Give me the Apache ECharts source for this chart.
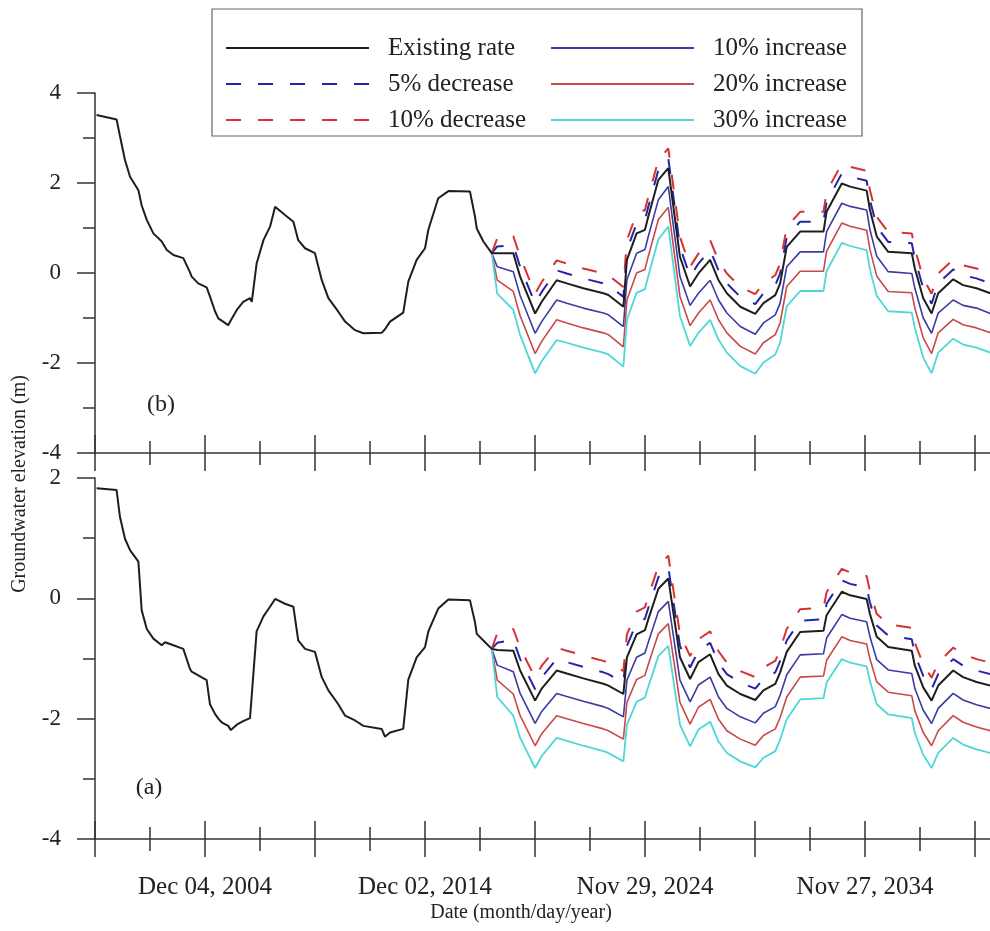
<!DOCTYPE html>
<html>
<head>
<meta charset="utf-8">
<script src="https://cdn.jsdelivr.net/npm/echarts@6/dist/echarts.min.js"></script>
<style>
  html, body { margin: 0; padding: 0; background: #fff; }
  #chart { width: 990px; height: 931px; }
</style>
</head>
<body>
<div id="chart"></div>
<script>
// ---- Observed period (all scenarios share it), decimal years ----
const histYears = [2000.00, 2000.91, 2001.06, 2001.29, 2001.52, 2001.90, 2002.05, 2002.28, 2002.58, 2002.96,
  2003.11, 2003.19, 2003.49, 2003.94, 2004.24, 2004.32, 2004.62, 2005.00, 2005.15, 2005.38,
  2005.53, 2005.68, 2005.98, 2006.10, 2006.37, 2006.66, 2006.97, 2007.05, 2007.27, 2007.58,
  2007.88, 2008.11, 2008.56, 2008.94, 2009.16, 2009.47, 2009.92, 2010.23, 2010.53, 2010.98,
  2011.29, 2011.74, 2012.12, 2012.95, 2013.10, 2013.33, 2013.93, 2014.16, 2014.54, 2014.92,
  2015.07, 2015.52, 2015.98, 2016.96, 2017.19, 2017.27, 2017.57];

// panel (b)
const histTop = [3.51, 3.41, 3.05, 2.51, 2.14, 1.84, 1.50, 1.18, 0.88, 0.70,
  0.58, 0.51, 0.40, 0.33, 0.02, -0.08, -0.23, -0.32, -0.52, -0.85,
  -1.01, -1.06, -1.16, -1.05, -0.82, -0.64, -0.56, -0.64, 0.21, 0.73,
  1.03, 1.47, 1.29, 1.14, 0.73, 0.55, 0.44, -0.16, -0.56, -0.86,
  -1.08, -1.27, -1.34, -1.33, -1.25, -1.08, -0.88, -0.19, 0.29, 0.55,
  0.96, 1.66, 1.82, 1.81, 1.25, 0.99, 0.70];

// panel (a)
const histBottom = [1.83, 1.80, 1.36, 0.99, 0.80, 0.61, -0.20, -0.51, -0.67, -0.78,
  -0.73, -0.75, -0.78, -0.84, -1.17, -1.22, -1.28, -1.36, -1.76, -1.92,
  -2.00, -2.06, -2.12, -2.19, -2.10, -2.04, -1.99, -1.99, -0.55, -0.30,
  -0.14, -0.01, -0.09, -0.14, -0.70, -0.84, -0.89, -1.31, -1.53, -1.76,
  -1.95, -2.03, -2.12, -2.17, -2.30, -2.23, -2.17, -1.35, -0.98, -0.81,
  -0.55, -0.17, -0.02, -0.03, -0.40, -0.59, -0.70];

// ---- Projection period, decimal years ----
const projYears = [2017.95, 2018.20, 2018.93, 2019.24, 2019.92, 2020.22, 2020.90, 2021.36, 2022.11, 2023.02,
  2023.25, 2023.93, 2024.09, 2024.53, 2024.91, 2025.06, 2025.52, 2025.97, 2026.50, 2026.96,
  2027.34, 2027.87, 2028.25, 2028.63, 2029.24, 2029.92, 2030.29, 2030.83, 2031.05, 2031.35,
  2031.96, 2033.02, 2033.16, 2033.85, 2034.23, 2034.98, 2035.13, 2035.44, 2035.96, 2037.03,
  2037.17, 2037.55, 2037.93, 2038.23, 2038.91, 2039.36, 2039.97, 2040.60];

// panel (b) scenarios
const existingTop = [0.44, 0.44, 0.44, -0.08, -0.90, -0.64, -0.16, -0.23, -0.34, -0.45,
  -0.49, -0.75, 0.29, 0.88, 0.96, 1.25, 2.07, 2.33, 0.36, -0.30,
  -0.01, 0.29, -0.16, -0.45, -0.75, -0.91, -0.67, -0.49, -0.23, 0.58,
  0.92, 0.92, 1.36, 1.99, 1.92, 1.83, 1.40, 0.81, 0.47, 0.44,
  0.10, -0.56, -0.90, -0.45, -0.14, -0.27, -0.34, -0.45];
const dec5Top = [0.44, 0.59, 0.62, 0.14, -0.68, -0.42, 0.06, -0.01, -0.12, -0.23,
  -0.27, -0.53, 0.51, 1.10, 1.18, 1.47, 2.29, 2.55, 0.58, -0.08,
  0.21, 0.51, 0.06, -0.23, -0.53, -0.69, -0.45, -0.27, -0.01, 0.80,
  1.14, 1.14, 1.58, 2.21, 2.14, 2.05, 1.62, 1.03, 0.69, 0.66,
  0.32, -0.34, -0.68, -0.23, 0.08, -0.05, -0.12, -0.23];
const dec10Top = [0.44, 0.77, 0.82, 0.36, -0.46, -0.20, 0.28, 0.21, 0.10, -0.01,
  -0.05, -0.31, 0.73, 1.32, 1.40, 1.69, 2.51, 2.77, 0.80, 0.14,
  0.43, 0.73, 0.28, -0.01, -0.31, -0.47, -0.23, -0.05, 0.21, 1.02,
  1.36, 1.36, 1.80, 2.43, 2.36, 2.27, 1.84, 1.25, 0.91, 0.88,
  0.54, -0.12, -0.46, -0.01, 0.30, 0.17, 0.10, -0.01];
const inc10Top = [0.44, 0.14, 0.03, -0.50, -1.34, -1.08, -0.60, -0.67, -0.78, -0.89,
  -0.93, -1.19, -0.15, 0.44, 0.52, 0.81, 1.63, 1.92, -0.08, -0.72,
  -0.45, -0.16, -0.60, -0.89, -1.19, -1.36, -1.11, -0.93, -0.67, 0.14,
  0.47, 0.47, 0.92, 1.55, 1.48, 1.40, 0.96, 0.37, 0.03, -0.01,
  -0.34, -1.00, -1.34, -0.89, -0.60, -0.72, -0.78, -0.90];
const inc20Top = [0.44, -0.16, -0.41, -0.95, -1.79, -1.52, -1.04, -1.11, -1.22, -1.33,
  -1.37, -1.64, -0.60, 0.00, 0.08, 0.37, 1.19, 1.46, -0.52, -1.17,
  -0.89, -0.60, -1.04, -1.33, -1.63, -1.80, -1.55, -1.37, -1.11, -0.30,
  0.04, 0.04, 0.48, 1.11, 1.04, 0.95, 0.52, -0.07, -0.41, -0.44,
  -0.78, -1.44, -1.79, -1.33, -1.03, -1.15, -1.22, -1.33];
const inc30Top = [0.44, -0.46, -0.82, -1.38, -2.23, -1.96, -1.49, -1.55, -1.66, -1.77,
  -1.81, -2.08, -1.04, -0.44, -0.36, -0.07, 0.75, 1.03, -0.96, -1.62,
  -1.33, -1.04, -1.48, -1.77, -2.07, -2.24, -1.99, -1.81, -1.55, -0.74,
  -0.40, -0.40, 0.04, 0.67, 0.60, 0.51, 0.08, -0.51, -0.85, -0.88,
  -1.22, -1.88, -2.23, -1.77, -1.46, -1.59, -1.66, -1.77];

// panel (a) scenarios
const existingBottom = [-0.84, -0.86, -0.87, -1.20, -1.70, -1.50, -1.20, -1.25, -1.33, -1.42,
  -1.45, -1.59, -0.98, -0.60, -0.53, -0.35, 0.16, 0.33, -0.98, -1.34,
  -1.06, -0.93, -1.26, -1.45, -1.59, -1.69, -1.53, -1.42, -1.23, -0.89,
  -0.56, -0.54, -0.28, 0.11, 0.05, -0.01, -0.26, -0.64, -0.81, -0.87,
  -1.12, -1.48, -1.70, -1.45, -1.20, -1.31, -1.39, -1.45];
const dec5Bottom = [-0.84, -0.74, -0.69, -1.01, -1.51, -1.31, -1.01, -1.06, -1.14, -1.23,
  -1.26, -1.40, -0.79, -0.41, -0.34, -0.16, 0.35, 0.52, -0.79, -1.15,
  -0.87, -0.74, -1.07, -1.26, -1.40, -1.50, -1.34, -1.23, -1.04, -0.70,
  -0.37, -0.35, -0.09, 0.30, 0.24, 0.18, -0.07, -0.45, -0.62, -0.68,
  -0.93, -1.29, -1.51, -1.26, -1.01, -1.12, -1.20, -1.26];
const dec10Bottom = [-0.84, -0.58, -0.51, -0.82, -1.32, -1.12, -0.82, -0.87, -0.95, -1.04,
  -1.07, -1.21, -0.60, -0.22, -0.15, 0.03, 0.54, 0.71, -0.60, -0.96,
  -0.68, -0.55, -0.88, -1.07, -1.21, -1.31, -1.15, -1.04, -0.85, -0.51,
  -0.18, -0.16, 0.10, 0.49, 0.43, 0.37, 0.12, -0.26, -0.43, -0.49,
  -0.74, -1.10, -1.32, -1.07, -0.82, -0.93, -1.01, -1.07];
const inc10Bottom = [-0.84, -1.11, -1.22, -1.58, -2.08, -1.88, -1.58, -1.63, -1.71, -1.80,
  -1.83, -1.97, -1.36, -0.98, -0.91, -0.73, -0.22, -0.05, -1.36, -1.72,
  -1.44, -1.31, -1.64, -1.83, -1.97, -2.07, -1.91, -1.80, -1.61, -1.27,
  -0.94, -0.92, -0.66, -0.27, -0.33, -0.39, -0.64, -1.02, -1.19, -1.25,
  -1.50, -1.86, -2.08, -1.83, -1.58, -1.69, -1.77, -1.83];
const inc20Bottom = [-0.84, -1.36, -1.59, -1.95, -2.45, -2.25, -1.95, -2.00, -2.08, -2.17,
  -2.20, -2.34, -1.73, -1.35, -1.28, -1.10, -0.59, -0.42, -1.73, -2.09,
  -1.81, -1.68, -2.01, -2.20, -2.34, -2.44, -2.28, -2.17, -1.98, -1.64,
  -1.31, -1.29, -1.03, -0.64, -0.70, -0.76, -1.01, -1.39, -1.56, -1.62,
  -1.87, -2.23, -2.45, -2.20, -1.95, -2.06, -2.14, -2.20];
const inc30Bottom = [-0.84, -1.64, -1.95, -2.32, -2.82, -2.62, -2.32, -2.37, -2.45, -2.54,
  -2.57, -2.71, -2.10, -1.72, -1.65, -1.47, -0.96, -0.79, -2.10, -2.46,
  -2.18, -2.05, -2.38, -2.57, -2.71, -2.81, -2.65, -2.54, -2.35, -2.01,
  -1.68, -1.66, -1.40, -1.01, -1.07, -1.13, -1.38, -1.76, -1.93, -1.99,
  -2.24, -2.60, -2.82, -2.57, -2.32, -2.43, -2.51, -2.57];

// ---- Axis tick values (spreadsheet day serials) ----
const xMin = 36500;          // first tick, left edge of the plots
const xMax = 52925;          // last tick, just past the right edge
const xStep = 1825;          // long ticks every 5 years, short ticks in between
const labelFirst = 38325;    // Dec 04, 2004
const labelStep = 3650;      // a date label every 10 years
const monthNames = ['Jan', 'Feb', 'Mar', 'Apr', 'May', 'Jun', 'Jul', 'Aug', 'Sep', 'Oct', 'Nov', 'Dec'];

const FONT = "'Liberation Serif', 'Times New Roman', serif";
const AXIS_COLOR = '#333';

function toSerial(year) {
  return 36526 + (year - 2000) * 365.25;
}
function pairs(years, values) {
  return years.map((y, i) => [toSerial(y), values[i]]);
}
function dateLabel(v) {
  if (Math.abs(((v - labelFirst) % labelStep + labelStep) % labelStep) > 0.5) return '';
  const d = new Date(Date.UTC(1899, 11, 30) + Math.round(v) * 86400000);
  const dd = String(d.getUTCDate()).padStart(2, '0');
  return monthNames[d.getUTCMonth()] + ' ' + dd + ', ' + d.getUTCFullYear();
}

const scenarios = [
  { name: 'Existing rate', color: '#1e1e1e', width: 2, dash: 'solid', top: existingTop, bottom: existingBottom },
  { name: '5% decrease', color: '#2424a8', width: 2, dash: [15, 17], top: dec5Top, bottom: dec5Bottom },
  { name: '10% decrease', color: '#d63232', width: 2, dash: [15, 17], top: dec10Top, bottom: dec10Bottom },
  { name: '10% increase', color: '#3b3ba3', width: 1.6, dash: 'solid', top: inc10Top, bottom: inc10Bottom },
  { name: '20% increase', color: '#c94848', width: 1.6, dash: 'solid', top: inc20Top, bottom: inc20Bottom },
  { name: '30% increase', color: '#4fd6d6', width: 1.8, dash: 'solid', top: inc30Top, bottom: inc30Bottom }
];

// the plotting area runs on past the right edge of the page
const grids = [
  { left: 95, top: 93, width: 990, height: 360, containLabel: false, outerBoundsMode: 'none' },
  { left: 95, top: 478, width: 990, height: 361, containLabel: false, outerBoundsMode: 'none' }
];

function xAxisPair(gridIndex, withLabels) {
  const common = {
    gridIndex, type: 'value', position: 'bottom',
    min: xMin, max: xMax, interval: xStep,
    splitLine: { show: false },
    minorTick: { show: true, splitNumber: 2, length: 12, lineStyle: { color: AXIS_COLOR, width: 1.5 } },
    axisTick: { show: true, length: 18, lineStyle: { color: AXIS_COLOR, width: 1.5 } }
  };
  return [
    Object.assign({}, common, {
      axisLine: { show: true, onZero: false, lineStyle: { color: AXIS_COLOR, width: 1.5 } },
      axisLabel: {
        show: withLabels, margin: 36, formatter: dateLabel,
        fontFamily: FONT, fontSize: 25, color: '#222',
        showMinLabel: true, showMaxLabel: true, hideOverlap: false
      }
    }),
    Object.assign({}, common, {
      axisLine: { show: false, onZero: false },
      axisTick: { show: true, inside: true, length: 18, lineStyle: { color: AXIS_COLOR, width: 1.5 } },
      axisLabel: { show: false }
    })
  ];
}

function yAxis(gridIndex, min, max) {
  return {
    gridIndex, type: 'value', min, max, interval: 2,
    splitLine: { show: false },
    axisLine: { show: true, onZero: false, lineStyle: { color: AXIS_COLOR, width: 1.5 } },
    axisTick: { show: true, length: 18, lineStyle: { color: AXIS_COLOR, width: 1.5 } },
    minorTick: { show: true, splitNumber: 2, length: 12, lineStyle: { color: AXIS_COLOR, width: 1.5 } },
    axisLabel: { margin: 34, fontFamily: FONT, fontSize: 23, color: '#222' }
  };
}

const series = [];
[['top', 0, histTop], ['bottom', 1, histBottom]].forEach(([key, g, hist]) => {
  scenarios.forEach((s, k) => {
    let data = pairs(projYears, s[key]);
    if (k === 0) data = pairs(histYears, hist).concat(data);
    series.push({
      name: s.name, type: 'line', xAxisIndex: g * 2, yAxisIndex: g,
      data, symbol: 'none', smooth: false, animation: false,
      z: k === 0 ? 3 : 2,
      lineStyle: { color: s.color, width: s.width, type: s.dash },
      itemStyle: { color: s.color }
    });
  });
});

const legendText = { fontFamily: FONT, fontSize: 25, color: '#222', lineHeight: 26, padding: [0, 0, 0, 14] };
const legendCommon = {
  orient: 'vertical', top: 30, itemWidth: 143, itemHeight: 14, itemGap: 10,
  textStyle: legendText, selectedMode: false, z: 6,
  itemStyle: { opacity: 0, borderWidth: 0 }
};

const chart = echarts.init(document.getElementById('chart'), null, { renderer: 'canvas' });
chart.setOption({
  backgroundColor: '#fff',
  animation: false,
  grid: grids,
  xAxis: xAxisPair(0, false).concat(xAxisPair(1, true)),
  yAxis: [yAxis(0, -4, 4), yAxis(1, -4, 2)],
  legend: [
    Object.assign({ data: ['Existing rate', '5% decrease', '10% decrease'], left: 220 }, legendCommon),
    Object.assign({ data: ['10% increase', '20% increase', '30% increase'], left: 545 }, legendCommon)
  ],
  graphic: [
    {
      type: 'rect', z: 5, silent: true,
      shape: { x: 212, y: 9, width: 650, height: 127 },
      style: { fill: '#fff', stroke: '#666', lineWidth: 1.2 }
    },
    {
      type: 'text', x: 20, y: 484, rotation: Math.PI / 2, silent: true,
      style: { text: 'Groundwater elevation (m)', font: "20px 'Liberation Serif', serif", fill: '#222', textAlign: 'center', textVerticalAlign: 'middle' }
    },
    {
      type: 'text', x: 521, y: 913, silent: true,
      style: { text: 'Date (month/day/year)', font: "20px 'Liberation Serif', serif", fill: '#222', textAlign: 'center', textVerticalAlign: 'middle' }
    },
    {
      type: 'text', x: 161, y: 405, silent: true,
      style: { text: '(b)', font: "24px 'Liberation Serif', serif", fill: '#222', textAlign: 'center', textVerticalAlign: 'middle' }
    },
    {
      type: 'text', x: 149, y: 788, silent: true,
      style: { text: '(a)', font: "24px 'Liberation Serif', serif", fill: '#222', textAlign: 'center', textVerticalAlign: 'middle' }
    }
  ],
  series
});
</script>
</body>
</html>
